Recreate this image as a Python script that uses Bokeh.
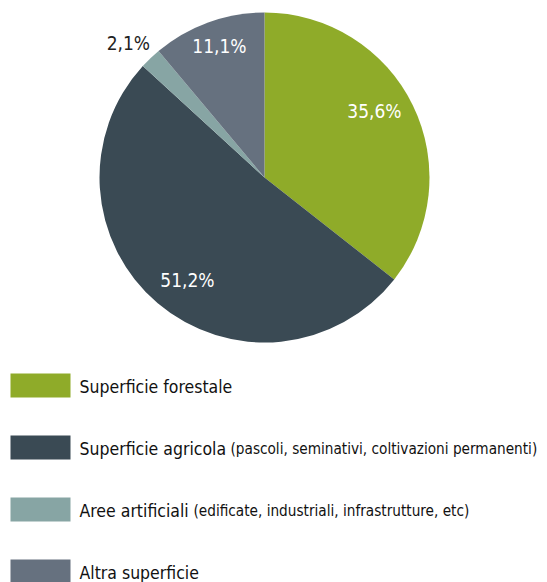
import math
from bokeh.plotting import figure
from bokeh.models import Range1d, ColumnDataSource
from bokeh.core.properties import value
from bokeh.embed import file_html
from bokeh.resources import INLINE

# ---- data ----
categories = ["Superficie forestale", "Superficie agricola", "Aree artificiali", "Altra superficie"]
notes = ["", "(pascoli, seminativi, coltivazioni permanenti)", "(edificate, industriali, infrastrutture, etc)", ""]
shares = [35.6, 51.2, 2.1, 11.1]
labels = ["35,6%", "51,2%", "2,1%", "11,1%"]
colors = ["#8fab29", "#3a4a54", "#87a5a4", "#66717f"]

FONT = value("'DejaVu Sans Condensed', Roboto, sans-serif")

W, H = 547, 582
p = figure(width=W, height=H, output_backend="svg", toolbar_location=None,
           x_range=Range1d(0, W), y_range=Range1d(0, H), min_border=0)
p.axis.visible = False
p.grid.visible = False
p.outline_line_color = None

def X(px):
    return px

def Y(py):
    return H - py

cx, cy, R = X(264), Y(177), 165
total = sum(shares)
starts, ends, mids = [], [], []
acc = 0.0
for s in shares:
    a0 = math.pi / 2 - 2 * math.pi * acc / total
    acc += s
    a1 = math.pi / 2 - 2 * math.pi * acc / total
    starts.append(a0)
    ends.append(a1)
    mids.append((a0 + a1) / 2)

src = ColumnDataSource(dict(start=starts, end=ends, color=colors))
p.wedge(x=cx, y=cy, radius=R, start_angle="start", end_angle="end", direction="clock",
        fill_color="color", line_color=None, source=src)

# labels
label_r = [0.78, 0.776, 1.158, 0.84]
label_shift = [math.radians(a) for a in (5.4, 3.3, 1.7, -1.0)]
label_colors = ["white", "white", "#222222", "white"]
lx = [cx + R * f * math.cos(m + d) for f, m, d in zip(label_r, mids, label_shift)]
ly = [cy + R * f * math.sin(m + d) for f, m, d in zip(label_r, mids, label_shift)]
p.text(x=lx, y=ly, text=labels, text_color=label_colors, text_align="center",
       text_baseline="middle", text_font=FONT, text_font_size="19px")

# legend
row_y = [Y(385 + 62 * i) for i in range(len(categories))]
p.rect(x=[X(40)] * 4, y=row_y, width=60, height=24, fill_color=colors, line_color=None)
p.text(x=[X(79)] * 4, y=[y - 1 for y in row_y], text=categories, text_color="#111111",
       text_align="left", text_baseline="middle", text_font=FONT,
       text_font_size="17.5px")
note_x = [X(230), X(230), X(193), X(230)]
p.text(x=note_x, y=[y - 1.5 for y in row_y], text=notes, text_color="#111111",
       text_align="left", text_baseline="middle", text_font=FONT,
       text_font_size="15.2px")

open("out.html", "w").write(file_html(p, INLINE))
